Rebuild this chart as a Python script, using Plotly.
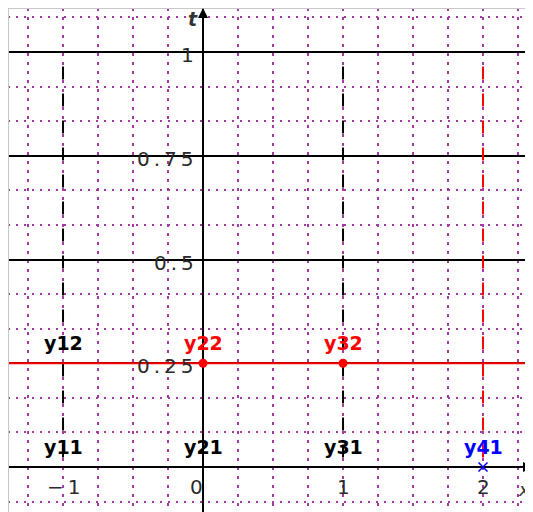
import plotly.graph_objects as go

# ---- data ----
x_range = [-1.393, 2.357]
y_range = [-0.1084, 1.106]

red_level = [0.25]                     # horizontal red line t = 0.25
red_pts_x = [0, 1]
red_pts_y = [0.25, 0.25]
blue_pt_x = [2]
blue_pt_y = [0]

black_dash_x = [-1, 1]                 # dashed vertical black lines
red_dash_x = [2]                       # dashed vertical red line
dash_top = 0.965

labels = ["y11", "y12", "y21", "y22", "y31", "y32", "y41"]
label_x = [-1, -1, 0, 0, 1, 1, 2]
label_y = [0, 0.25, 0, 0.25, 0, 0.25, 0]
label_col = ["black", "black", "black", "red", "black", "red", "blue"]

ytick_vals = [0.25, 0.5, 0.75, 1]
ytick_text = ["0.25", "0.5", "0.75", "1"]
xtick_vals = [-1, 0, 1, 2]
xtick_text = ["\u22121", "0", "1", "2"]

purple = "#a53aa5"

fig = go.Figure()

for xv in black_dash_x:
    fig.add_trace(go.Scatter(x=[xv, xv], y=[dash_top, 0], mode="lines",
                             line=dict(color="black", width=2, dash="13px,14px"),
                             hoverinfo="skip", showlegend=False))
for xv in red_dash_x:
    fig.add_trace(go.Scatter(x=[xv, xv], y=[dash_top, 0], mode="lines",
                             line=dict(color="red", width=2, dash="13px,14px"),
                             hoverinfo="skip", showlegend=False))

for lv in red_level:
    fig.add_trace(go.Scatter(x=[x_range[0] - 1, x_range[1] + 1], y=[lv, lv], mode="lines",
                             line=dict(color="red", width=2),
                             hoverinfo="skip", showlegend=False))

fig.add_trace(go.Scatter(x=red_pts_x, y=red_pts_y, mode="markers",
                         marker=dict(color="red", size=9),
                         hoverinfo="skip", showlegend=False))
fig.add_trace(go.Scatter(x=blue_pt_x, y=blue_pt_y, mode="markers",
                         marker=dict(color="blue", size=9, symbol="x-thin",
                                     line=dict(color="blue", width=1.5)),
                         hoverinfo="skip", showlegend=False))

annotations = []
for t, lx, ly, c in zip(labels, label_x, label_y, label_col):
    annotations.append(dict(x=lx, y=ly, text=t, showarrow=False, xanchor="center",
                            yanchor="middle", yshift=20,
                            font=dict(family="DejaVu Sans", size=19, color=c, weight="bold")))

tick_font = dict(family="DejaVu Sans", size=20, color="#2a2a2a")
for v, t in zip(ytick_vals, ytick_text):
    annotations.append(dict(x=0, y=v, text="\u2009".join(t), showarrow=False, xanchor="right",
                            yanchor="middle", xshift=-7, yshift=-3, font=tick_font))
for v, t in zip(xtick_vals, xtick_text):
    annotations.append(dict(x=v, y=0, text="\u2009".join(t), showarrow=False, xanchor="center",
                            yanchor="middle", yshift=-20, xshift=(-7 if v == 0 else 0),
                            font=tick_font))

# axis names
annotations.append(dict(x=0, y=1.08, text="<i><b>t</b></i>", showarrow=False, xanchor="right",
                        yanchor="middle", xshift=-3,
                        font=dict(family="DejaVu Sans", size=19, color="#333")))
annotations.append(dict(x=x_range[1], y=-0.055, text="<i>x</i>", showarrow=False, xanchor="right",
                        yanchor="middle", xshift=-1,
                        font=dict(family="DejaVu Sans", size=18, color="#333")))
# arrows
annotations.append(dict(x=0, y=y_range[1], ax=0, ay=14, axref="pixel", ayref="pixel",
                        showarrow=True, arrowhead=2, arrowsize=1, arrowwidth=2,
                        arrowcolor="black", text=""))
annotations.append(dict(x=x_range[1], y=0, ax=-14, ay=0, showarrow=True, arrowhead=2,
                        arrowsize=1, arrowwidth=2, arrowcolor="black", text=""))

fig.update_layout(
    width=525, height=504,
    margin=dict(l=0, r=0, t=0, b=0, autoexpand=False),
    paper_bgcolor="white", plot_bgcolor="white",
    annotations=annotations,
    xaxis=dict(range=x_range, showticklabels=False, ticks="", automargin=False,
               showgrid=True, dtick=0.25, tick0=0, gridcolor=purple, gridwidth=2,
               griddash="3px,6px",
               zeroline=True, zerolinecolor="black", zerolinewidth=2, showline=False),
    yaxis=dict(range=y_range, showticklabels=False, ticks="", automargin=False,
               showgrid=True, dtick=0.25, tick0=0, gridcolor="black", gridwidth=2,
               griddash="solid",
               minor=dict(dtick=1/12, tick0=0, showgrid=True, gridcolor=purple,
                          gridwidth=2, griddash="2px,6px"),
               zeroline=True, zerolinecolor="black", zerolinewidth=2, showline=False),
    shapes=[
        dict(type="line", xref="paper", yref="paper", x0=0, x1=0, y0=0, y1=1,
             line=dict(color="#c8c8c8", width=2)),
        dict(type="line", xref="paper", yref="paper", x0=0, x1=1, y0=1, y1=1,
             line=dict(color="#c8c8c8", width=2)),
    ],
)

fig.write_html("out.html")
